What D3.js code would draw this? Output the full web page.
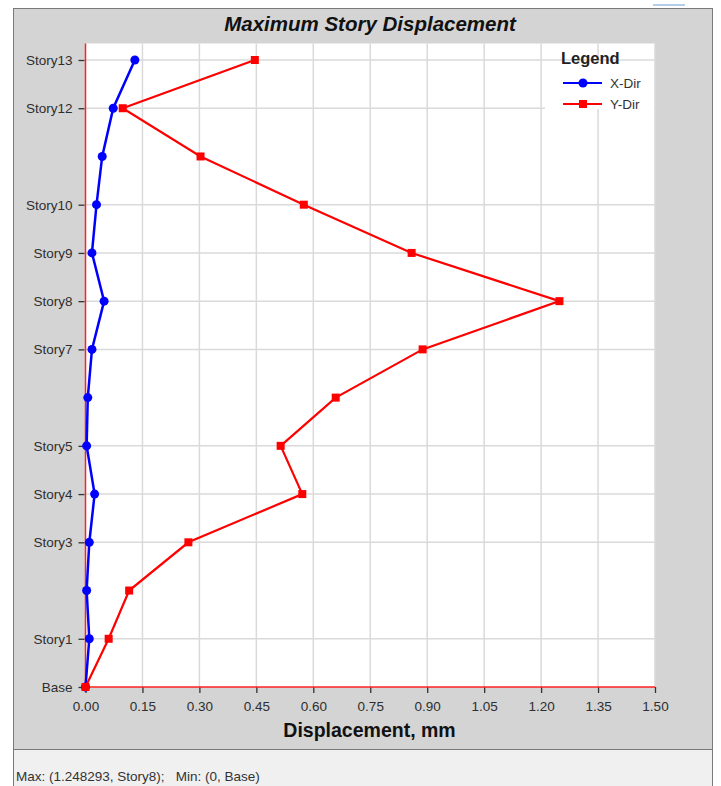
<!DOCTYPE html>
<html>
<head>
<meta charset="utf-8">
<script src="https://cdn.jsdelivr.net/npm/d3@7"></script>
<style>
  html, body { margin: 0; padding: 0; background: #ffffff; }
  svg { display: block; font-family: "Liberation Sans", Arial, sans-serif; }
</style>
</head>
<body>
<svg id="chart" width="721" height="786"></svg>
<script>
// Story levels, bottom to top
const levels = ["Base", "Story1", "Story2", "Story3", "Story4", "Story5", "Story6",
                "Story7", "Story8", "Story9", "Story10", "Story11", "Story12", "Story13"];
// Levels that carry a tick, label and grid line
const labeledLevels = ["Base", "Story1", "Story3", "Story4", "Story5", "Story7",
                       "Story8", "Story9", "Story10", "Story12", "Story13"];
// Maximum displacement per level (mm)
const xDir = [0, 0.010, 0.003, 0.010, 0.024, 0.003, 0.006, 0.017, 0.049, 0.017, 0.029, 0.044, 0.073, 0.130];
const yDir = [0, 0.061, 0.115, 0.271, 0.571, 0.514, 0.659, 0.888, 1.248293, 0.859, 0.575, 0.303, 0.098, 0.446];
const xTicks = [0, 0.15, 0.30, 0.45, 0.60, 0.75, 0.90, 1.05, 1.20, 1.35, 1.50];

const svg = d3.select("#chart");

// window frame
svg.append("rect").attr("x", 653).attr("y", 4).attr("width", 32).attr("height", 2)
  .attr("fill", "#b4cde8");
svg.append("rect").attr("x", 13.5).attr("y", 8.5).attr("width", 699).attr("height", 741)
  .attr("fill", "#d4d4d4").attr("stroke", "#7a7a7a").attr("stroke-width", 1);
svg.append("rect").attr("x", 13.5).attr("y", 749.5).attr("width", 699).attr("height", 40)
  .attr("fill", "#f0f0f0").attr("stroke", "#7a7a7a").attr("stroke-width", 1);

const plotL = 85.5, plotR = 655, plotT = 43.5, plotB = 687;
const x = d3.scaleLinear().domain([0, 1.5]).range([plotL, plotR]);
const y = d3.scalePoint().domain(levels).range([plotB, 60]);

// plot background
svg.append("rect").attr("x", plotL).attr("y", plotT).attr("width", plotR - plotL)
  .attr("height", plotB - plotT).attr("fill", "#ffffff");

// grid
const grid = svg.append("g").attr("stroke", "#dadada").attr("stroke-width", 1.5);
grid.selectAll("line.v").data(xTicks.slice(1)).join("line").attr("class", "v")
  .attr("x1", d => x(d)).attr("x2", d => x(d)).attr("y1", plotT).attr("y2", plotB);
grid.selectAll("line.h").data(labeledLevels.slice(1)).join("line").attr("class", "h")
  .attr("x1", plotL).attr("x2", plotR).attr("y1", d => y(d)).attr("y2", d => y(d));

// title
svg.append("text").attr("x", 370).attr("y", 31).attr("text-anchor", "middle")
  .attr("font-size", 20.5).attr("font-weight", "bold").attr("font-style", "italic")
  .attr("fill", "#111").text("Maximum Story Displacement");

// y axis
const yAxis = d3.axisLeft(y).tickValues(labeledLevels).tickSize(6).tickPadding(6);
const gy = svg.append("g").attr("transform", `translate(${plotL - 1},0)`).call(yAxis);
gy.select(".domain").remove();
gy.selectAll(".tick line").attr("stroke", "#333").attr("stroke-width", 1.3);
gy.selectAll(".tick text").attr("font-size", 13.5).attr("fill", "#2e2e2e")
  .attr("font-family", "Liberation Sans, Arial, sans-serif");

// x axis
const xAxis = d3.axisBottom(x).tickValues(xTicks).tickFormat(d3.format(".2f")).tickSize(6).tickPadding(8);
const gx = svg.append("g").attr("transform", `translate(0,${plotB})`).call(xAxis);
gx.select(".domain").remove();
gx.selectAll(".tick line").attr("stroke", "#333").attr("stroke-width", 1.3);
gx.selectAll(".tick text").attr("font-size", 13.5).attr("fill", "#2e2e2e")
  .attr("font-family", "Liberation Sans, Arial, sans-serif");

svg.append("text").attr("x", 369.5).attr("y", 737).attr("text-anchor", "middle")
  .attr("font-size", 19.5).attr("font-weight", "bold").attr("fill", "#111")
  .text("Displacement, mm");

// red axis lines
svg.append("line").attr("x1", plotL).attr("x2", plotL).attr("y1", plotT).attr("y2", plotB)
  .attr("stroke", "#ff2020").attr("stroke-width", 1.5);
svg.append("line").attr("x1", plotL).attr("x2", plotR).attr("y1", plotB).attr("y2", plotB)
  .attr("stroke", "#ff2020").attr("stroke-width", 1.5);

// series
const line = d3.line().x(d => x(d.v)).y(d => y(d.level));
const xPts = levels.map((l, i) => ({ level: l, v: xDir[i] }));
const yPts = levels.map((l, i) => ({ level: l, v: yDir[i] }));

svg.append("path").datum(xPts).attr("d", line).attr("fill", "none")
  .attr("stroke", "#0000ff").attr("stroke-width", 2.5);
svg.append("g").selectAll("circle").data(xPts).join("circle")
  .attr("cx", d => x(d.v)).attr("cy", d => y(d.level)).attr("r", 4.5).attr("fill", "#0000ff");

svg.append("path").datum(yPts).attr("d", line).attr("fill", "none")
  .attr("stroke", "#ff0000").attr("stroke-width", 2.2);
svg.append("g").selectAll("rect").data(yPts).join("rect")
  .attr("x", d => x(d.v) - 4).attr("y", d => y(d.level) - 4)
  .attr("width", 8).attr("height", 8).attr("fill", "#ff0000");

// legend
const legend = svg.append("g");
legend.append("rect").attr("x", 545).attr("y", 63).attr("width", 109).attr("height", 46)
  .attr("fill", "#ffffff");
legend.append("text").attr("x", 561).attr("y", 64).attr("font-size", 16.5)
  .attr("font-weight", "bold").attr("fill", "#222").text("Legend");
const entries = [
  { name: "X-Dir", color: "#0000ff", shape: "circle" },
  { name: "Y-Dir", color: "#ff0000", shape: "square" }
];
entries.forEach((e, i) => {
  const cy = 83 + i * 21;
  legend.append("line").attr("x1", 563).attr("x2", 602).attr("y1", cy).attr("y2", cy)
    .attr("stroke", e.color).attr("stroke-width", 2.2);
  if (e.shape === "circle") {
    legend.append("circle").attr("cx", 583).attr("cy", cy).attr("r", 4.5).attr("fill", e.color);
  } else {
    legend.append("rect").attr("x", 579).attr("y", cy - 4).attr("width", 8).attr("height", 8)
      .attr("fill", e.color);
  }
  legend.append("text").attr("x", 610).attr("y", cy + 5).attr("font-size", 13.5)
    .attr("fill", "#333").text(e.name);
});

// status line
svg.append("text").attr("x", 16).attr("y", 781).attr("font-size", 13.5).attr("fill", "#333")
  .attr("xml:space", "preserve").style("white-space", "pre")
  .text("Max: (1.248293, Story8);   Min: (0, Base)");
</script>
</body>
</html>
